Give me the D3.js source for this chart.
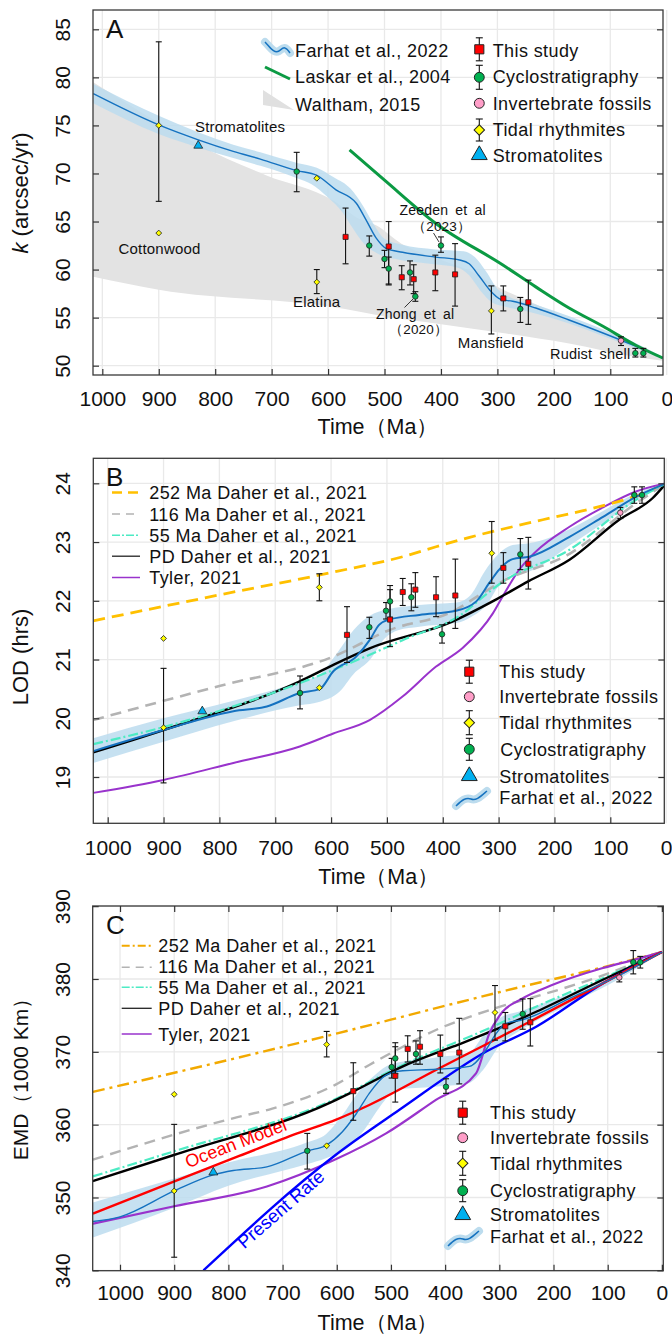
<!DOCTYPE html>
<html><head><meta charset="utf-8">
<script src="https://cdn.jsdelivr.net/npm/d3@7"></script>
<style>
body{margin:0;background:#fff}
svg{display:block}
text{font-family:"Liberation Sans",Arial,Helvetica,sans-serif;fill:#111}
</style>
</head><body><script>
// ---------------- DATA ----------------
const xTicks = [1000,900,800,700,600,500,400,300,200,100,0];
const yTicksA = [50,55,60,65,70,75,80,85];
const yTicksB = [19,20,21,22,23,24];
const yTicksC = [340,350,360,370,380,390];

// Panel A : k (arcsec/yr) ; points = [age, value, upper, lower]
const aThis = [[569,63.4,66.4,60.6],[492.6,62.4,65.0,58.4],[469.5,59.2,60.4,57.9],[448.3,59.0,60.5,57.5],[410,59.7,61.5,57.8],[375,59.5,62.7,56.2],[289.5,57.0,58.3,55.7],[245.2,56.6,58.9,54.3]];
const aCyclo = [[655.6,70.2,72.2,68.1],[527,62.5,63.5,61.4],[500,61.1,62.0,60.2],[492.6,60.1,61.3,58.5],[454.8,59.7,60.9,58.4],[445.4,57.2,57.7,56.7],[400,62.5,63.4,61.8],[259.4,55.9,57.1,54.5],[55.6,51.3,51.8,50.9],[41.4,51.3,51.8,50.9]];
const aInvert = [[81,52.6,53.0,52.1]];
const aTidal = [[900,75.0,83.7,67.1],[900,63.8,null,null],[620,69.5,null,null],[620,58.7,60.0,57.5],[310.7,55.7,58.3,53.3]];
const aStrom = [[830,72.9]];
const aFarhat = [[1016,78.3],[900,75.05],[830,73.5],[768,72.3],[720,71.5],[655,70.3],[620,69.8],[586,68.3],[550,66.9],[533,65.2],[515,63.3],[497,62.2],[468,61.8],[409,61.3],[367,61.0],[350,60.6],[332,59.3],[314,57.9],[294,56.9],[273,56.7],[232,56.0],[173,54.75],[113,53.4],[54,52.0],[7,50.8]];
const aFarhatHi = [[1016,79.3],[900,76.0],[830,74.3],[768,73.0],[720,72.2],[655,71.1],[620,70.6],[590,69.6],[560,68.4],[540,66.8],[520,64.8],[500,63.2],[470,62.6],[410,62.1],[360,61.9],[340,61.3],[320,59.8],[300,58.0],[280,57.2],[240,56.5],[170,55.1],[110,53.7],[50,52.2],[7,50.9]];
const aFarhatLo = [[1016,77.3],[900,74.1],[830,72.7],[768,71.6],[720,70.8],[655,69.5],[630,68.9],[600,67.5],[575,66.0],[555,64.2],[535,62.6],[510,61.6],[480,61.1],[420,60.6],[370,60.2],[350,59.4],[330,57.8],[310,56.6],[290,56.2],[250,55.7],[173,54.4],[113,53.1],[54,51.8],[7,50.7]];
const aLaskar = [[562,72.45],[500,69.3],[409,64.8],[291,60.5],[232,58.2],[173,56.0],[113,54.1],[54,52.1],[7,50.8]];
const aWalthamHi = [[1016,79.5],[900,75.3],[830,73.0],[709,69.8],[591,67.2],[545,65.3],[515,64.6],[470,62.7],[409,61.2],[350,59.9],[300,58.2],[232,56.4],[113,53.4],[7,50.8]];
const aWalthamLo = [[1016,59.26],[900,57.9],[591,56.1],[497,55.1],[409,54.4],[291,53.4],[173,52.3],[54,50.9],[7,50.5]];

// Panel B : LOD (hrs)
const bThis = [[571.5,21.42,21.9,20.95],[494.4,21.68,22.19,21.22],[471.7,22.15,22.38,21.92],[449.1,22.19,22.48,21.89],[412,22.06,22.41,21.73],[377.5,22.09,22.71,21.53],[291.5,22.56,22.82,22.3],[246.8,22.63,23.08,22.2]];
const bCyclo = [[655.6,20.43,20.72,20.16],[531.5,21.55,21.72,21.36],[501.6,21.83,21.97,21.69],[494.4,21.99,22.26,21.72],[456.3,22.06,22.29,21.83],[401.3,21.43,21.59,21.28],[261.1,22.79,23.06,22.53],[57,23.8,23.94,23.66],[43.2,23.8,23.94,23.66]];
const bInvert = [[82,23.5,23.59,23.4]];
const bTidal = [[900,19.84,20.85,18.9],[900,21.36,null,null],[621,22.23,22.46,22.0],[621,20.52,null,null],[312.3,22.81,23.35,22.3]];
const bStrom = [[830.6,20.12]];
const bDaher252 = [[1026,21.66],[800,22.1],[590,22.5],[472,22.75],[412,22.92],[352,23.08],[221,23.38],[125,23.59],[24,23.89],[0,24.0]];
const bDaher116 = [[1026,19.97],[800,20.55],[596,21.05],[496,21.5],[376,21.85],[334,22.1],[293,22.33],[173,22.8],[54,23.66],[0,24.0]];
const bDaher55 = [[1026,19.56],[900,19.85],[656,20.6],[602,20.8],[472,21.33],[352,21.87],[334,22.02],[293,22.32],[173,22.87],[54,23.72],[0,24.0]];
const bDaherPD = [[1026,19.42],[900,19.8],[656,20.63],[596,20.91],[531,21.19],[382,21.65],[305,22.02],[247,22.33],[173,22.7],[84,23.38],[24,23.75],[0,24.0]];
const bTyler = [[1026,18.73],[900,18.95],[775,19.24],[656,19.52],[596,19.74],[531,19.97],[472,20.37],[412,20.88],[364,21.2],[310,21.79],[293,22.07],[263,22.53],[233,22.84],[173,23.26],[113,23.59],[54,23.86],[0,24.0]];
const bFarhat = [[1026,19.44],[900,19.8],[775,20.12],[715,20.2],[656,20.43],[620,20.5],[596,20.8],[555,21.05],[531,21.33],[514,21.59],[496,21.68],[442,21.76],[376,21.83],[340,21.99],[317,22.3],[299,22.53],[275,22.71],[245,22.75],[173,23.09],[113,23.43],[54,23.77],[0,24.0]];
const bFarhatHi = [[1026,19.66],[900,20.0],[775,20.3],[656,20.62],[620,20.75],[590,21.1],[560,21.5],[530,21.75],[500,21.85],[442,21.93],[376,21.97],[350,22.1],[325,22.5],[300,22.8],[275,22.95],[245,22.98],[173,23.22],[113,23.53],[54,23.83],[0,24.0]];
const bFarhatLo = [[1026,19.24],[900,19.6],[775,19.95],[656,20.22],[620,20.28],[585,20.45],[560,20.75],[530,21.0],[505,21.35],[480,21.5],[442,21.56],[376,21.62],[350,21.72],[320,21.95],[300,22.25],[275,22.45],[245,22.5],[173,22.94],[113,23.32],[54,23.7],[0,24.0]];

// Panel C : EMD (1000 km)
const cThis = [[569.5,364.6,368.5,360.6],[492,366.7,370.7,363.1],[469.1,370.4,372.2,368.6],[446.4,370.7,372.9,368.3],[408.9,369.7,372.3,367.1],[373.9,369.9,374.6,365.6],[289,373.5,375.4,371.5],[242.8,374.05,377.3,370.8]];
const cCyclo = [[654.4,356.4,358.8,353.9],[498.7,367.9,369.1,366.4],[492,369.1,371.25,367.0],[453.8,369.7,371.5,368.3],[398.4,365.2,366.3,364.3],[256.9,375.2,377.25,373.1],[52.8,382.3,383.9,380.7],[39.9,382.3,383.1,381.5]];
const cInvert = [[78.6,380.2,380.9,379.6]];
const cTidal = [[900,350.9,360.04,341.8],[900,364.16,null,null],[618.6,371.0,372.8,369.3],[618.6,357.1,null,null],[308,375.4,379.1,371.6]];
const cStrom = [[827.8,353.45]];
const cDaher252 = [[1050,364.5],[601,372.5],[417,376.0],[294,378.3],[109,381.6],[0,383.7]];
const cDaher116 = [[1050,355.2],[790,360.9],[719,362.2],[602,365.5],[540,368.2],[478,370.7],[417,373.0],[355,374.8],[294,376.3],[232,377.6],[109,380.5],[0,383.7]];
const cDaher55 = [[1050,352.9],[902,356.3],[606,363.4],[478,368.2],[312,373.45],[232,376.2],[109,380.1],[0,383.7]];
const cDaherPD = [[1050,352.25],[902,355.8],[610,363.1],[571,364.5],[478,368.0],[386,370.7],[294,373.45],[232,375.5],[109,379.9],[0,383.7]];
const cOcean = [[1050,347.8],[902,352.15],[780,355.7],[673,358.8],[601,360.7],[540,362.7],[417,367.5],[325,371.0],[232,374.6],[109,379.4],[0,383.7]];
const cPresent = [[846,340],[601,355.9],[485,362.0],[325,370.0],[232,373.45],[109,379.4],[0,383.7]];
const cTyler = [[1050,346.4],[900,348.8],[729,351.5],[606,355.1],[509,358.8],[417,363.4],[343,367.05],[318.5,372.5],[294,375.5],[263,377.1],[201.5,379.2],[109,381.5],[48,382.7],[0,383.7]];
const cFarhat = [[1050,346.7],[1000,347.35],[900,350.9],[828,353.1],[791,353.7],[729,354.2],[654,356.4],[619,357.2],[590,359],[564,361.5],[540,364.3],[509,366.8],[478,367.4],[417,367.6],[355,368.0],[325,370.25],[306,372.5],[288,373.9],[257,374.4],[171,377.3],[79,380.5],[0,383.7]];
const cFarhatHi = [[1050,349.3],[900,352.6],[800,354.8],[654,357.6],[620,358.7],[590,361.3],[560,364.5],[530,366.8],[500,368.3],[420,369.2],[355,369.9],[330,372.2],[300,374.6],[260,375.6],[171,378.0],[79,381.0],[0,383.7]];
const cFarhatLo = [[1050,344.5],[900,348.6],[800,351.6],[654,354.6],[620,355.4],[580,356.8],[550,359.2],[520,362.5],[490,364.8],[420,365.2],[360,365.6],[330,367.5],[300,370.8],[260,373.0],[171,376.5],[79,380.0],[0,383.7]];

// ---------------- STYLE ----------------
const COL = {red:'#ff0000', green:'#00b050', pink:'#ff9ec8', yellow:'#ffff00', strom:'#00b0f0',
  farhat:'#1572c0', band:'#bcdcee', laskar:'#0b9a43', gray:'#e3e3e3', grid:'#e9e9e9',
  d252:'#ffc000', d252c:'#f2a900', d116:'#b3b3b3', d55:'#4debc4', pd:'#000000', tyler:'#9933cc',
  ocean:'#ff0000', present:'#0000ff'};
const W = 672, H = 1335;
const svg = d3.select('body').append('svg').attr('width', W).attr('height', H);
svg.append('rect').attr('width', W).attr('height', H).attr('fill', '#fff');

function makePanel(p) {
  const x = d3.scaleLinear().domain(p.xd).range([p.l, p.r]);
  const y = d3.scaleLinear().domain(p.yd).range([p.b, p.t]);
  const g = svg.append('g');
  const id = 'clip' + p.name;
  svg.append('clipPath').attr('id', id).append('rect')
    .attr('x', p.l).attr('y', p.t).attr('width', p.r - p.l).attr('height', p.b - p.t);
  g.append('g').selectAll('line').data(xTicks).join('line')
    .attr('x1', d => x(d)).attr('x2', d => x(d)).attr('y1', p.t).attr('y2', p.b)
    .attr('stroke', COL.grid).attr('stroke-width', 1.3);
  g.append('g').selectAll('line').data(p.yt).join('line')
    .attr('y1', d => y(d)).attr('y2', d => y(d)).attr('x1', p.l).attr('x2', p.r)
    .attr('stroke', COL.grid).attr('stroke-width', 1.3);
  const plot = g.append('g').attr('clip-path', `url(#${id})`);
  const pts = g.append('g');
  const over = g.append('g');
  return {p, x, y, g, plot, pts, over};
}

function finishAxes(P, opts) {
  const {p, x, y, over} = P;
  over.append('rect').attr('x', p.l).attr('y', p.t).attr('width', p.r - p.l).attr('height', p.b - p.t)
    .attr('fill', 'none').attr('stroke', '#3a3a3a').attr('stroke-width', 1.3);
  const ax = over.append('g').attr('transform', `translate(0,${p.b})`)
    .call(d3.axisBottom(x).tickValues(xTicks.filter(t => x(t) <= p.r + 6)).tickSizeInner(-6).tickSizeOuter(0).tickFormat(d3.format('d')));
  ax.select('.domain').remove();
  ax.selectAll('.tick line').attr('stroke', '#333').attr('stroke-width', 1.2)
    .attr('display', d => x(d) > p.r ? 'none' : null);
  ax.selectAll('.tick text').attr('y', p.xlab - p.b).attr('dy', null)
    .attr('font-size', 21).attr('fill', '#111');
  const ay = over.append('g').attr('transform', `translate(${p.l},0)`)
    .call(d3.axisLeft(y).tickValues(p.yt).tickSizeInner(-6).tickSizeOuter(0).tickFormat(d3.format('d')));
  ay.select('.domain').remove();
  ay.selectAll('.tick line').attr('stroke', '#333').attr('stroke-width', 1.2);
  ay.selectAll('.tick text').attr('x', null).attr('dy', null).attr('text-anchor', 'middle')
    .attr('transform', `translate(${70 - p.l},0) rotate(-90)`).attr('font-size', 21).attr('fill', '#111');
  const ar = over.append('g').attr('transform', `translate(${p.r},0)`)
    .call(d3.axisRight(y).tickValues(p.yt).tickSizeInner(-6).tickSizeOuter(0).tickFormat(''));
  ar.select('.domain').remove();
  ar.selectAll('.tick line').attr('stroke', '#333').attr('stroke-width', 1.2);
  if (opts && opts.top) {
    const at = over.append('g').attr('transform', `translate(0,${p.t})`)
      .call(d3.axisTop(x).tickValues(xTicks.filter(t => x(t) <= p.r)).tickSizeInner(-6).tickSizeOuter(0).tickFormat(''));
    at.select('.domain').remove();
    at.selectAll('.tick line').attr('stroke', '#333').attr('stroke-width', 1.2);
  }
  over.append('text').attr('x', (p.l + p.r) / 2).attr('y', p.xtitle).attr('text-anchor', 'middle')
    .attr('font-size', 21.5).text('Time（Ma）');
  over.append('text').attr('x', 106).attr('y', p.t + 28).attr('font-size', 26).text(p.name);
}

function lineGen(P) {
  return d3.line().x(d => P.x(d[0])).y(d => P.y(d[1])).curve(d3.curveMonotoneX);
}
function drawLine(P, data, color, width, dash) {
  P.plot.append('path').attr('d', lineGen(P)(data)).attr('fill', 'none')
    .attr('stroke', color).attr('stroke-width', width).attr('stroke-dasharray', dash || null)
    .attr('stroke-linejoin', 'round');
}
function drawBand(P, hi, lo, color, opacity) {
  const lg = lineGen(P);
  const d = lg(hi) + lg(lo.slice().reverse()).replace(/^M/, 'L') + 'Z';
  P.plot.append('path').attr('d', d).attr('fill', color).attr('fill-opacity', opacity == null ? 1 : opacity).attr('stroke', 'none');
}

const SYM = {
  square: {type: d3.symbolSquare, size: 26, rot: 0},
  circle: {type: d3.symbolCircle, size: 24, rot: 0},
  diamond: {type: d3.symbolSquare, size: 17, rot: 45},
  triangle: {type: d3.symbolTriangle, size: 34, rot: 0}
};
function drawErr(P, data) {
  const g = P.pts;
  data.filter(d => d[2] != null).forEach(d => {
    const cx = P.x(d[0]), y1 = P.y(d[2]), y2 = P.y(d[3]);
    g.append('line').attr('x1', cx).attr('x2', cx).attr('y1', y1).attr('y2', y2).attr('stroke', '#111').attr('stroke-width', 1.1);
    [y1, y2].forEach(yy => g.append('line').attr('x1', cx - 3).attr('x2', cx + 3).attr('y1', yy).attr('y2', yy).attr('stroke', '#111').attr('stroke-width', 1.1));
  });
}
function drawMarks(P, data, kind, fill) {
  const s = SYM[kind];
  P.pts.selectAll(null).data(data).join('path')
    .attr('transform', d => `translate(${P.x(d[0])},${P.y(d[1])}) rotate(${s.rot})`)
    .attr('d', d3.symbol().type(s.type).size(s.size))
    .attr('fill', fill).attr('stroke', '#222').attr('stroke-width', 0.8);
}
function legendMark(g, cx, cy, kind, fill, err, scale) {
  const s = SYM[kind];
  if (err) {
    g.append('line').attr('x1', cx).attr('x2', cx).attr('y1', cy - err).attr('y2', cy + err).attr('stroke', '#111').attr('stroke-width', 1.1);
    [cy - err, cy + err].forEach(yy => g.append('line').attr('x1', cx - 3.5).attr('x2', cx + 3.5).attr('y1', yy).attr('y2', yy).attr('stroke', '#111').attr('stroke-width', 1.1));
  }
  g.append('path').attr('transform', `translate(${cx},${cy}) rotate(${s.rot})`)
    .attr('d', d3.symbol().type(s.type).size(s.size * (scale || 3.2)))
    .attr('fill', fill).attr('stroke', '#222').attr('stroke-width', 1);
}
function legendText(g, x, y, t, size) {
  g.append('text').attr('x', x).attr('y', y).attr('font-size', size || 18).attr('letter-spacing', 0.4).text(t);
}
function farhatIcon(g, path) {
  g.append('path').attr('d', path).attr('fill', 'none').attr('stroke', COL.band).attr('stroke-width', 8).attr('stroke-linecap', 'round');
  g.append('path').attr('d', path).attr('fill', 'none').attr('stroke', COL.farhat).attr('stroke-width', 1.5);
}

// ================= PANEL A =================
const A = makePanel({name: 'A', l: 93, r: 663, t: 10, b: 375, xd: [1016.5, 6.6], yd: [49.03, 87.01], yt: yTicksA, xlab: 406, xtitle: 434});
drawBand(A, aWalthamHi, aWalthamLo, COL.gray, 1);
drawBand(A, aFarhatHi, aFarhatLo, COL.band, 0.85);
drawLine(A, aFarhat, COL.farhat, 1.4);
drawLine(A, aLaskar, COL.laskar, 3);
[aThis, aCyclo, aInvert, aTidal].forEach(d => drawErr(A, d));
drawMarks(A, aTidal, 'diamond', COL.yellow);
drawMarks(A, aCyclo, 'circle', COL.green);
drawMarks(A, aThis, 'square', COL.red);
drawMarks(A, aInvert, 'circle', COL.pink);
drawMarks(A, aStrom, 'triangle', COL.strom);
finishAxes(A);
{
  const g = A.over;
  const ann = [['Stromatolites', 195, 132.3, 15], ['Cottonwood', 118.5, 254, 15], ['Elatina', 293, 306.7, 15], ['Zeeden et al', 399.5, 215, 14],
    ['（2023）', 412, 230.5, 13.5], ['Zhong et al', 376, 318.8, 14], ['（2020）', 389, 334.3, 13.5], ['Mansfield', 457.7, 348.3, 15], ['Rudist shell', 550, 359, 14.5]];
  ann.forEach(a => g.append('text').attr('x', a[1]).attr('y', a[2]).attr('font-size', a[3]).attr('letter-spacing', 0.2).attr('word-spacing', 3).text(a[0]));
  g.append('line').attr('x1', 433.5).attr('y1', 233).attr('x2', 439).attr('y2', 242).attr('stroke', '#222').attr('stroke-width', 0.9);
  g.append('line').attr('x1', 404.5).attr('y1', 307.5).attr('x2', 413).attr('y2', 299).attr('stroke', '#222').attr('stroke-width', 0.9);
  g.append('text').attr('transform', 'translate(28,193) rotate(-90)').attr('text-anchor', 'middle').attr('font-size', 22)
    .html('<tspan font-style="italic">k</tspan> (arcsec/yr)');
  farhatIcon(g, 'M265,42 C270,47 274,54 279,51 C283,48 285,45 290,53');
  g.append('line').attr('x1', 265).attr('y1', 67).attr('x2', 290).attr('y2', 79).attr('stroke', COL.laskar).attr('stroke-width', 3);
  g.append('path').attr('d', 'M263,90 L294,110 L263,105 Z').attr('fill', '#e0e0e0');
  legendText(g, 295, 56.5, 'Farhat et al., 2022');
  legendText(g, 295, 83, 'Laskar et al., 2004');
  legendText(g, 295, 110.5, 'Waltham, 2015');
  const mx = 479.3, tx = 492.7;
  legendMark(g, mx, 49.3, 'square', COL.red, 11.5);
  legendMark(g, mx, 77.3, 'circle', COL.green, 12);
  legendMark(g, mx, 103.3, 'circle', COL.pink, 0);
  legendMark(g, mx, 130, 'diamond', COL.yellow, 11);
  legendMark(g, mx, 155, 'triangle', COL.strom, 0);
  legendText(g, tx, 57, 'This study');
  legendText(g, tx, 83, 'Cyclostratigraphy');
  legendText(g, tx, 110, 'Invertebrate fossils');
  legendText(g, tx, 136, 'Tidal rhythmites');
  legendText(g, tx, 161.5, 'Stromatolites');
}

// ================= PANEL B =================
const B = makePanel({name: 'B', l: 93.3, r: 664.3, t: 458.3, b: 823.3, xd: [1025.8, 3.3], yd: [18.212, 24.426], yt: yTicksB, xlab: 855, xtitle: 884});
drawBand(B, bFarhatHi, bFarhatLo, COL.band, 0.85);
drawLine(B, bTyler, COL.tyler, 2);
drawLine(B, bDaher252, COL.d252, 2.8, '12,7');
drawLine(B, bDaher116, COL.d116, 2.6, '11,7');
drawLine(B, bDaherPD, COL.pd, 2.4);
drawLine(B, bDaher55, COL.d55, 2.2, '10,3,2,3');
drawLine(B, bFarhat, COL.farhat, 2);
[bThis, bCyclo, bInvert, bTidal].forEach(d => drawErr(B, d));
drawMarks(B, bTidal, 'diamond', COL.yellow);
drawMarks(B, bCyclo, 'circle', COL.green);
drawMarks(B, bThis, 'square', COL.red);
drawMarks(B, bInvert, 'circle', COL.pink);
drawMarks(B, bStrom, 'triangle', COL.strom);
finishAxes(B);
{
  const g = B.over;
  g.append('text').attr('transform', 'translate(28,657) rotate(-90)').attr('text-anchor', 'middle').attr('font-size', 22).text('LOD (hrs)');
  const lx1 = 112, lx2 = 140, tx = 149.3;
  const rows = [[499, COL.d252, 2.5, '10,6', '252 Ma Daher et al., 2021'], [520.5, COL.d116, 1.5, '8,6', '116 Ma Daher et al., 2021'],
    [541.7, COL.d55, 1.5, '8,2,2,2', '55 Ma Daher et al., 2021'], [562.7, '#222', 1.3, null, 'PD Daher et al., 2021'], [584, COL.tyler, 1.5, null, 'Tyler, 2021']];
  rows.forEach(r => {
    g.append('line').attr('x1', lx1).attr('x2', lx2).attr('y1', r[0] - 6.5).attr('y2', r[0] - 6.5).attr('stroke', r[1]).attr('stroke-width', r[2]).attr('stroke-dasharray', r[3]);
    legendText(g, tx, r[0], r[4]);
  });
  const mx = 469.3, rx = 499.3;
  legendMark(g, mx, 671.7, 'square', COL.red, 11.5);
  legendMark(g, mx, 696.7, 'circle', COL.pink, 0);
  legendMark(g, mx, 722.7, 'diamond', COL.yellow, 12);
  legendMark(g, mx, 749.3, 'circle', COL.green, 11);
  legendMark(g, mx, 776, 'triangle', COL.strom, 0);
  farhatIcon(g, 'M456,806 C462,800 466,797 471,799 C476,801 480,797 487,791');
  legendText(g, rx, 678, 'This study');
  legendText(g, rx, 703.3, 'Invertebrate fossils');
  legendText(g, rx, 729.3, 'Tidal rhythmites');
  legendText(g, rx + 1, 756, 'Cyclostratigraphy');
  legendText(g, rx, 782.7, 'Stromatolites');
  legendText(g, rx, 804, 'Farhat et al., 2022');
}

// ================= PANEL C =================
const Cp = makePanel({name: 'C', l: 92.7, r: 663.3, t: 906, b: 1270.7, xd: [1050.4, -2.6], yd: [339.95, 390.02], yt: yTicksC, xlab: 1300, xtitle: 1330});
drawBand(Cp, cFarhatHi, cFarhatLo, COL.band, 0.85);
drawLine(Cp, cDaher252, COL.d252c, 2.4, '12,5,3,5');
drawLine(Cp, cDaher116, COL.d116, 2.4, '11,7');
drawLine(Cp, cDaher55, COL.d55, 2.2, '10,3,2,3');
drawLine(Cp, cDaherPD, COL.pd, 2.4);
drawLine(Cp, cTyler, COL.tyler, 2.2);
drawLine(Cp, cPresent, COL.present, 2.4);
drawLine(Cp, cOcean, COL.ocean, 2.4);
drawLine(Cp, cFarhat, COL.farhat, 1.4);
[cThis, cCyclo, cInvert, cTidal].forEach(d => drawErr(Cp, d));
drawMarks(Cp, cTidal, 'diamond', COL.yellow);
drawMarks(Cp, cCyclo, 'circle', COL.green);
drawMarks(Cp, cThis, 'square', COL.red);
drawMarks(Cp, cInvert, 'circle', COL.pink);
drawMarks(Cp, cStrom, 'triangle', COL.strom);
finishAxes(Cp, {top: true});
{
  const g = Cp.over;
  g.append('text').attr('transform', 'translate(28,1074) rotate(-90)').attr('text-anchor', 'middle').attr('font-size', 21).text('EMD（1000 Km）');
  g.append('text').attr('transform', 'translate(238,1149) rotate(-21)').attr('text-anchor', 'middle').attr('font-size', 18)
    .style('fill', COL.ocean).text('Ocean Model');
  g.append('text').attr('transform', 'translate(285,1214) rotate(-41)').attr('text-anchor', 'middle').attr('font-size', 18.5)
    .style('fill', COL.present).text('Present Rate');
  const lx1 = 121.7, lx2 = 151.7, tx = 158.3;
  const rows = [[951.5, COL.d252c, 2, '8,3,2,3', '252 Ma Daher et al., 2021', 945.7], [973, COL.d116, 1.5, '8,6', '116 Ma Daher et al., 2021', 967.3],
    [994, COL.d55, 1.5, '8,2,2,2', '55 Ma Daher et al., 2021', 987.3], [1015, '#222', 1.3, null, 'PD Daher et al., 2021', 1008.3], [1040.5, COL.tyler, 1.5, null, 'Tyler, 2021', 1034]];
  rows.forEach(r => {
    g.append('line').attr('x1', lx1).attr('x2', lx2).attr('y1', r[5]).attr('y2', r[5]).attr('stroke', r[1]).attr('stroke-width', r[2]).attr('stroke-dasharray', r[3]);
    legendText(g, tx, r[0], r[4]);
  });
  const mx = 462.7, rx = 490;
  legendMark(g, mx, 1112.7, 'square', COL.red, 11.5);
  legendMark(g, mx, 1137.7, 'circle', COL.pink, 0);
  legendMark(g, mx, 1163.3, 'diamond', COL.yellow, 12);
  legendMark(g, mx, 1190.7, 'circle', COL.green, 11);
  legendMark(g, mx, 1215, 'triangle', COL.strom, 0);
  farhatIcon(g, 'M448,1246 C454,1240 458,1237 463,1239 C468,1241 472,1237 479,1231');
  legendText(g, rx, 1119.3, 'This study');
  legendText(g, rx, 1144.3, 'Invertebrate fossils');
  legendText(g, rx, 1170, 'Tidal rhythmites');
  legendText(g, rx, 1196.7, 'Cyclostratigraphy');
  legendText(g, rx, 1221, 'Stromatolites');
  legendText(g, rx, 1243.3, 'Farhat et al., 2022');
}
</script></body></html>
